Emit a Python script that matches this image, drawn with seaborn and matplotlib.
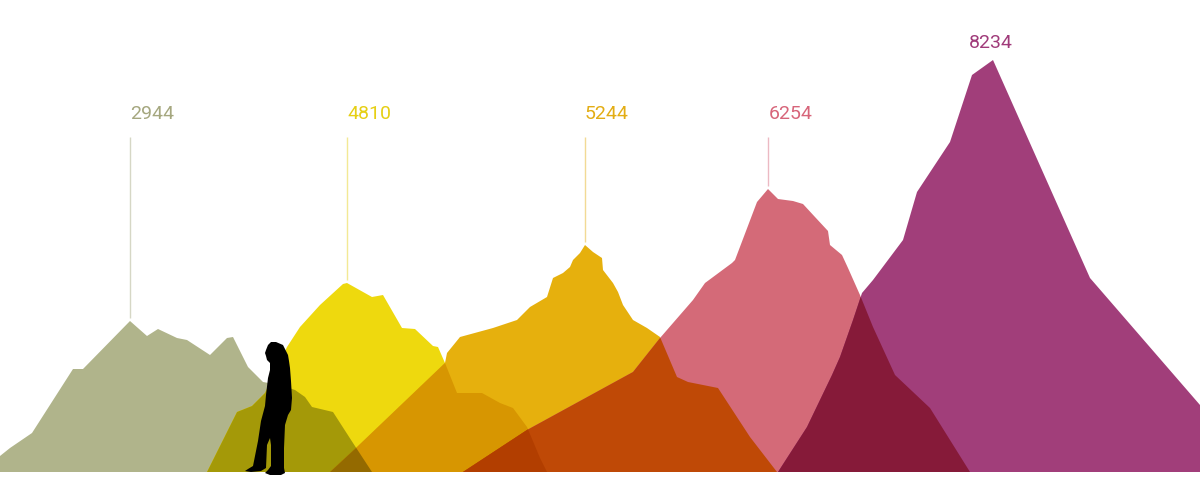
import numpy as np
import matplotlib
matplotlib.use("Agg")
import matplotlib.pyplot as plt
import matplotlib.colors as mcolors
import seaborn as sns
from itertools import combinations

sns.set_theme(style="white")
plt.rcParams['font.family'] = ['Roboto', 'DejaVu Sans']

# ---- data: mountain silhouettes (x position, height above baseline) ----
elevations = ["2944", "4810", "5244", "6254", "8234"]

m1_x = [-18, 0, 10, 32, 73, 83, 130, 147, 158, 177, 187, 210, 227, 233, 248, 263, 280, 295, 305, 312, 333, 353, 372]
m1_h = [0, 16, 24, 39, 103, 103, 151, 136, 143, 134, 132, 117, 134, 135, 105, 90, 87, 82, 75, 65, 60, 29, 0]

m2_x = [207, 237, 252, 265, 287, 300, 320, 343, 347, 372, 383, 402, 415, 433, 438, 445, 457, 482, 500, 513, 527, 540, 547]
m2_h = [0, 60, 66, 79, 125, 145, 167, 188, 189, 175, 177, 144, 143, 126, 125, 109, 79, 79, 69, 64, 45, 14, 0]

m3_x = [330, 357, 445, 447, 460, 493, 517, 530, 547, 553, 563, 570, 573, 580, 585, 593, 602, 603, 613, 618, 623, 633, 647, 660, 677, 688, 718, 750, 777]
m3_h = [0, 25, 109, 119, 135, 144, 152, 165, 175, 194, 199, 205, 212, 219, 227, 220, 214, 202, 189, 180, 167, 152, 144, 135, 95, 90, 84, 35, 0]

m4_x = [463, 527, 633, 660, 693, 705, 732, 735, 757, 768, 778, 793, 803, 815, 828, 830, 842, 848, 860, 873, 895, 930, 970]
m4_h = [0, 42, 100, 134, 172, 189, 209, 212, 270, 283, 273, 271, 268, 255, 241, 227, 217, 204, 177, 145, 97, 64, 0]

m5_x = [778, 807, 832, 840, 853, 862, 873, 903, 917, 950, 972, 993, 1090, 1200, 1265]
m5_h = [0, 45, 97, 115, 152, 179, 192, 232, 280, 330, 397, 412, 194, 67, 0]

peak_x = [130, 347, 585, 768, 993]
peak_h = [151, 189, 227, 283, 412]

# person silhouette (scale figure), outline in image rows
person_x = [276, 283, 288, 289, 290, 291, 292, 291, 288, 285, 284, 284, 285, 281, 275, 270, 265, 268, 271, 271, 270, 267, 266, 261, 251, 245, 248, 253, 258, 261, 265, 266, 268, 270, 270, 267, 266, 265, 266, 268, 271]
person_y = [342, 345, 355, 361, 368, 381, 398, 410, 415, 425, 448, 468, 473, 475, 475, 475, 473, 470, 466, 445, 438, 445, 468, 471, 472, 471, 469, 466, 441, 421, 406, 395, 378, 370, 363, 360, 356, 353, 350, 345, 342]

# ---- styles ----
fill_colors = ["#b0b48b", "#eed90e", "#e6b00d", "#d46a78", "#a13e7a"]
text_colors = ["#a5a77f", "#e6cf14", "#e3ad14", "#d7657a", "#a03b7a"]
label_x = [130, 347, 585, 769, 991]
label_ha = ["left", "left", "left", "left", "center"]
label_h = [358, 358, 358, 358, 429]
line_top = 335

profiles_x = [m1_x, m2_x, m3_x, m4_x, m5_x]
profiles_h = [m1_h, m2_h, m3_h, m4_h, m5_h]

grid = np.linspace(-30, 1280, 8000)
prof = [np.interp(grid, xs, hs, left=0, right=0) for xs, hs in zip(profiles_x, profiles_h)]
rgb = [np.array(mcolors.to_rgb(c)) for c in fill_colors]

fig = plt.figure(figsize=(12, 4.86), dpi=100)
ax = fig.add_axes([0, 0, 1, 1])

# multiply-blended overlapping silhouettes
for k in range(1, 4):
    for combo in combinations(range(5), k):
        h = np.min([prof[i] for i in combo], axis=0)
        if h.max() <= 0.5:
            continue
        col = np.prod([rgb[i] for i in combo], axis=0)
        ax.fill_between(grid, 0, h, color=col, lw=0, antialiased=True)

# leader lines and labels
for i in range(5):
    if i < 4:
        ax.plot([peak_x[i], peak_x[i]], [peak_h[i] + 3, line_top],
                color=text_colors[i], lw=1, alpha=0.45, solid_capstyle='butt')
    ax.text(label_x[i], label_h[i], elevations[i], ha=label_ha[i], va='center',
            fontsize=14, color=text_colors[i])

# person
ax.fill(person_x, [472 - y for y in person_y], color="black", lw=0, zorder=5)

ax.set_xlim(0, 1200)
ax.set_ylim(-14, 472)
ax.axis('off')
sns.despine(ax=ax, left=True, bottom=True)
fig.savefig("out.png", dpi=100, facecolor="white")
